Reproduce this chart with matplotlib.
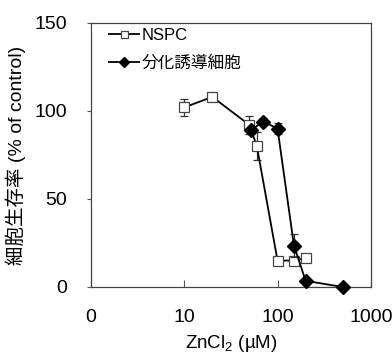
import matplotlib
matplotlib.use("Agg")
import matplotlib.pyplot as plt

plt.rcParams['font.family'] = ['Liberation Sans', 'Noto Sans CJK JP', 'DejaVu Sans']
plt.rcParams['mathtext.fontset'] = 'custom'
plt.rcParams['mathtext.rm'] = 'Liberation Sans'
plt.rcParams['mathtext.default'] = 'regular'

# NSPC
nspc_x = [10, 20, 50, 60, 100, 150, 200]
nspc_y = [102, 108, 92, 80, 15, 15, 16.5]
nspc_err = [5, 1, 5, 8, 1, 1, 1]

# differentiated cells
diff_x = [52, 70, 100, 150, 200, 500]
diff_y = [89, 94, 90, 23.5, 3.5, 0]
diff_err = [2, 2, 3, 6.5, 1, 0]

xticks = [1, 10, 100, 1000]
xtick_labels = ["0", "10", "100", "1000"]
yticks = [0, 50, 100, 150]

fig = plt.figure(figsize=(3.92, 3.53), dpi=100)
ax = fig.add_axes([0.232, 0.187, 0.714, 0.748])

e1 = ax.errorbar(nspc_x, nspc_y, yerr=nspc_err, color='black', lw=1.3,
                 marker='s', ms=7.2, mfc='white', mec='#444444', mew=0.9,
                 ecolor='#333333', elinewidth=0.9, capsize=3, capthick=0.9,
                 clip_on=False, zorder=3)
e2 = ax.errorbar(diff_x, diff_y, yerr=diff_err, color='black', lw=1.3,
                 marker='D', ms=7, mfc='black', mec='black',
                 ecolor='#333333', elinewidth=0.9, capsize=3, capthick=0.9,
                 clip_on=False, zorder=4)

ax.set_xscale('log')
ax.set_xlim(1, 1000)
ax.set_ylim(0, 150)
ax.set_xticks(xticks)
ax.set_xticklabels(xtick_labels)
ax.minorticks_off()
ax.set_yticks(yticks)

ax.tick_params(axis='x', direction='in', length=5, width=0.8, pad=16,
               labelsize=14, color='#555555')
ax.tick_params(axis='y', direction='out', length=3, width=0.8, pad=14,
               labelsize=14, color='#555555')
for s in ax.spines.values():
    s.set_color('#444444')
    s.set_linewidth(0.9)

ax.set_xlabel("ZnCl$_2$ (µM)", fontsize=13.5, labelpad=5)
ax.set_ylabel("細胞生存率 (% of control)", fontsize=14, labelpad=6)

ax.legend([e1[0], e2[0]], ['NSPC', '分化誘導細胞'], loc='upper left',
          frameon=False, fontsize=12, handlelength=1.8, handletextpad=0.2,
          labelspacing=0.75, borderaxespad=0.0, borderpad=0.3,
          markerscale=0.7, bbox_to_anchor=(0.045, 1.0))

fig.savefig("out.png", dpi=100)
